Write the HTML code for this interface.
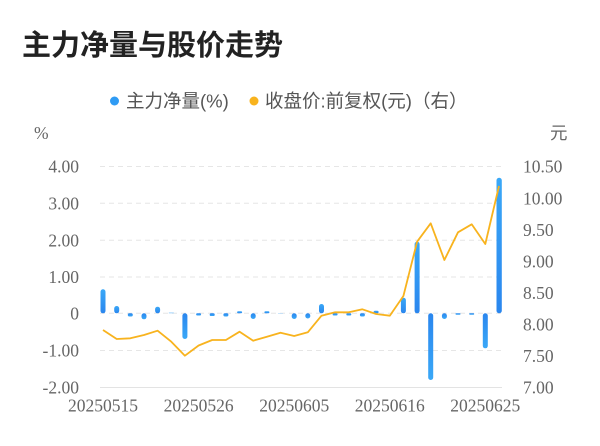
<!DOCTYPE html>
<html><head><meta charset="utf-8"><style>
html,body{margin:0;padding:0;background:#fff;}
svg{display:block;}
.t{font-family:"Liberation Serif","Noto Serif CJK SC",serif;font-size:17.5px;fill:#666;}
.c{font-family:"Liberation Sans","Noto Sans CJK SC",sans-serif;}
</style></head><body>
<svg width="600" height="446" viewBox="0 0 600 446" xmlns="http://www.w3.org/2000/svg">
<defs>
<linearGradient id="gp" x1="0" y1="0" x2="0" y2="1"><stop offset="0" stop-color="#3aa8f7"/><stop offset="1" stop-color="#2a86ee"/></linearGradient>
<linearGradient id="gn" x1="0" y1="1" x2="0" y2="0"><stop offset="0" stop-color="#3aa8f7"/><stop offset="1" stop-color="#2a86ee"/></linearGradient>
</defs>
<rect width="600" height="446" fill="#fff"/>
<text x="22" y="55" class="c" font-size="29" font-weight="bold" fill="#222">主力净量与股价走势</text>
<circle cx="114.5" cy="101" r="4.5" fill="#2f9bf4"/>
<text x="126" y="107.5" class="c" font-size="18.5" fill="#555">主力净量(%)</text>
<circle cx="254" cy="101" r="4.5" fill="#f8b31e"/>
<text x="265" y="107.5" class="c" font-size="18.5" fill="#555">收盘价:前复权(元)（右）</text>
<text x="34" y="139" class="t" font-size="17">%</text>
<text x="550" y="139" class="t" font-size="17" style="font-family:'Noto Sans CJK SC',sans-serif">元</text>
<g stroke="#e6e6e6" stroke-width="1" stroke-dasharray="5,4">
<line x1="100" x2="502" y1="166.5" y2="166.5"/>
<line x1="100" x2="502" y1="203.3" y2="203.3"/>
<line x1="100" x2="502" y1="240.2" y2="240.2"/>
<line x1="100" x2="502" y1="277" y2="277"/>
<line x1="100" x2="502" y1="313.3" y2="313.3"/>
<line x1="100" x2="502" y1="350.5" y2="350.5"/>
</g>
<line x1="100" x2="502" y1="387.5" y2="387.5" stroke="#e3e3e3" stroke-width="1"/>
<g class="t" text-anchor="end">
<text x="79" y="172.7">4.00</text>
<text x="79" y="209.5">3.00</text>
<text x="79" y="246.4">2.00</text>
<text x="79" y="283.2">1.00</text>
<text x="79" y="319.5">0</text>
<text x="79" y="356.7">-1.00</text>
<text x="79" y="393.6">-2.00</text>
</g>
<g class="t">
<text x="523" y="172.7">10.50</text>
<text x="523" y="204.3">10.00</text>
<text x="523" y="235.8">9.50</text>
<text x="523" y="267.4">9.00</text>
<text x="523" y="299">8.50</text>
<text x="523" y="330.6">8.00</text>
<text x="523" y="362.1">7.50</text>
<text x="523" y="393.6">7.00</text>
</g>
<g class="t" text-anchor="middle">
<text x="103" y="411.5">20250515</text>
<text x="198.6" y="411.5">20250526</text>
<text x="294.2" y="411.5">20250605</text>
<text x="389.8" y="411.5">20250616</text>
<text x="485.3" y="411.5">20250625</text>
</g>
<g>
<rect x="100.5" y="289.3" width="5" height="24" rx="2.5" fill="url(#gp)"/>
<rect x="114.2" y="306" width="5" height="7.3" rx="2.5" fill="url(#gp)"/>
<rect x="127.8" y="313.3" width="5" height="3.2" rx="1.6" fill="url(#gn)"/>
<rect x="141.5" y="313.3" width="5" height="6" rx="2.5" fill="url(#gn)"/>
<rect x="155.1" y="306.7" width="5" height="6.6" rx="2.5" fill="url(#gp)"/>
<rect x="168.8" y="312.5" width="5" height="0.8" fill="#8cc8f8"/>
<rect x="182.4" y="313.3" width="5" height="25.7" rx="2.5" fill="url(#gn)"/>
<rect x="196.1" y="313.3" width="5" height="2.2" rx="1.1" fill="url(#gn)"/>
<rect x="209.7" y="313.3" width="5" height="2.7" rx="1.3" fill="url(#gn)"/>
<rect x="223.4" y="313.3" width="5" height="3.2" rx="1.6" fill="url(#gn)"/>
<rect x="237.1" y="311.3" width="5" height="2" rx="1" fill="url(#gp)"/>
<rect x="250.7" y="313.3" width="5" height="5.7" rx="2.5" fill="url(#gn)"/>
<rect x="264.4" y="311.3" width="5" height="2" rx="1" fill="url(#gp)"/>
<rect x="278" y="313" width="5" height="0.6" fill="#a8d4f8"/>
<rect x="291.7" y="313.3" width="5" height="5.7" rx="2.5" fill="url(#gn)"/>
<rect x="305.3" y="313.3" width="5" height="5.2" rx="2.5" fill="url(#gn)"/>
<rect x="319" y="304" width="5" height="9.3" rx="2.5" fill="url(#gp)"/>
<rect x="332.6" y="313.3" width="5" height="2.2" rx="1.1" fill="url(#gn)"/>
<rect x="346.3" y="313.3" width="5" height="2.2" rx="1.1" fill="url(#gn)"/>
<rect x="359.9" y="313.3" width="5" height="3.2" rx="1.6" fill="url(#gn)"/>
<rect x="373.6" y="310.7" width="5" height="2.6" rx="1.3" fill="url(#gp)"/>
<rect x="400.9" y="297.7" width="5" height="15.6" rx="2.5" fill="url(#gp)"/>
<rect x="414.6" y="241.7" width="5" height="71.6" rx="2.5" fill="url(#gp)"/>
<rect x="428.2" y="313.3" width="5" height="66.7" rx="2.5" fill="url(#gn)"/>
<rect x="441.9" y="313.3" width="5" height="5.7" rx="2.5" fill="url(#gn)"/>
<rect x="455.5" y="313.3" width="5" height="1.4" rx="0.7" fill="url(#gn)"/>
<rect x="469.2" y="313.3" width="5" height="1.4" rx="0.7" fill="url(#gn)"/>
<rect x="482.8" y="313.3" width="5" height="35" rx="2.5" fill="url(#gn)"/>
<rect x="496.5" y="177.8" width="5.3" height="135.5" rx="2.6" fill="url(#gp)"/>
</g>
<polyline fill="none" stroke="#f8b31e" stroke-width="1.8" stroke-linejoin="round" points="103,330 116.7,339 130.3,338.3 144,335 157.6,330.7 171.3,341.7 184.9,355.7 198.6,345.5 212.2,340 225.9,340 239.6,331.7 253.2,340.7 266.9,336.7 280.5,332.7 294.2,336 307.8,332.3 321.5,315.7 335.1,312.3 348.8,312.3 362.4,309.3 376.1,314 389.8,315.7 403.4,296 417.1,241.7 430.7,223.3 444.4,260 458,232.3 471.7,224.3 485.3,244 499,186"/>
</svg>
</body></html>
